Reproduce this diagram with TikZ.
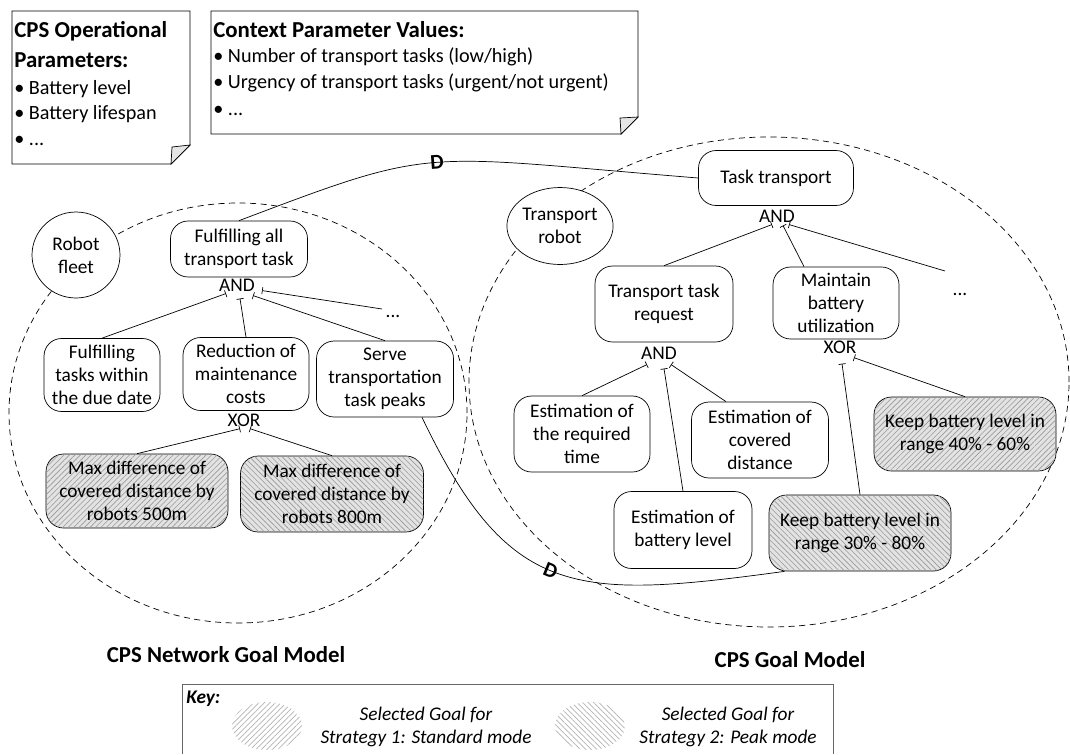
\documentclass[tikz,border=0pt]{standalone}
\usepackage{fontspec}
\setmainfont{Carlito}
\usepackage{tikz}
\usetikzlibrary{calc,arrows.meta,patterns.meta,shapes.geometric}
\newcommand{\notetitle}[1]{{\fontsize{13}{14.5}\selectfont\bfseries #1}}
\tikzset{
    goal-box/.style = {draw, fill=white, thin, rectangle, rounded corners=10pt, align=center, inner sep=1pt, font=\fontsize{11}{13}\selectfont},
    agent-circle/.style = {draw, fill=white, thin, ellipse, align=center, inner sep=0pt, font=\fontsize{11}{13}\selectfont},
    standard-goal/.style = {goal-box, fill=gray!22, postaction={pattern={Lines[angle=45,distance=2.2pt,line width=0.35pt]}, pattern color=gray!80}},
    peak-goal/.style = {goal-box, fill=gray!22, postaction={pattern={Lines[angle=-45,distance=2.2pt,line width=0.35pt]}, pattern color=gray!80}},
    gate-label/.style = {inner sep=0pt, font=\fontsize{11}{11}\selectfont},
    refine-link/.style = {thin, -{Bar[width=4pt,line width=0.4pt]}},
    dep-label/.style = {inner sep=0pt, sloped, font=\fontsize{12}{12}\selectfont\bfseries},
    actor-boundary/.style = {thin, dash pattern=on 3.5pt off 2.5pt},
    note-text/.style = {inner sep=0pt, align=left, anchor=north west, font=\fontsize{11.5}{14.5}\selectfont},
    model-title/.style = {font=\fontsize{13}{15}\selectfont\bfseries},
    key-text/.style = {align=center, font=\fontsize{11}{13}\selectfont\itshape},
}

\begin{document}
\begin{tikzpicture}[x=0.02cm, y=0.02cm]
\useasboundingbox (0,0) rectangle (1070,-754);

\draw[thin] (12,-11) -- (190,-11) -- (190,-145) -- (171,-164) -- (12,-164) -- cycle;
\filldraw[fill=gray!20, thin] (171,-164) -- (172,-147) -- (190,-145) -- cycle;
\node[note-text] (ops) at (14,-21) {\notetitle{CPS Operational}\\[2.5pt]\notetitle{Parameters:}\\[1pt]\textbullet\ Battery level\\ \textbullet\ Battery lifespan\\ \textbullet\ ...};

\draw[thin] (211,-11) -- (638,-11) -- (638,-117) -- (621,-134) -- (211,-134) -- cycle;
\filldraw[fill=gray!20, thin] (621,-134) -- (620,-118) -- (638,-117) -- cycle;
\node[note-text] (ctx) at (213,-21) {\notetitle{Context Parameter Values:}\\ \textbullet\ Number of transport tasks (low/high)\\ \textbullet\ Urgency of transport tasks (urgent/not urgent)\\[1pt] \textbullet\ ...};

\draw[actor-boundary] (238,-413) ellipse (229 and 210);
\draw[actor-boundary] (769,-382) ellipse (300 and 245);

\node[agent-circle, minimum width=1.76cm, minimum height=1.72cm] (fleet) at (76,-255) {Robot\\fleet};
\node[goal-box, minimum width=2.74cm, minimum height=1.12cm] (fulfil) at (239,-249) {Fulfilling all\\transport task};
\node[gate-label] (and1) at (237,-285) {AND};
\node[goal-box, minimum width=2.32cm, minimum height=1.46cm] (tasks) at (102,-375) {Fulfilling\\tasks within\\the due date};
\node[goal-box, minimum width=2.52cm, minimum height=1.46cm] (reduce) at (246,-374) {Reduction of\\maintenance\\costs};
\node[goal-box, minimum width=2.74cm, minimum height=1.52cm] (serve) at (385,-379) {Serve\\transportation\\task peaks};
\node[gate-label] (dots1) at (393,-316) {...};
\node[gate-label] (xor1) at (244,-420) {XOR};
\node[standard-goal, minimum width=3.64cm, minimum height=1.48cm] (dist500) at (137,-491) {Max difference of\\covered distance by\\robots 500m};
\node[peak-goal, minimum width=3.66cm, minimum height=1.52cm] (dist800) at (332,-494) {Max difference of\\covered distance by\\robots 800m};

\node[agent-circle, minimum width=1.9cm, minimum height=1.54cm] (trobot) at (560,-226) {Transport\\robot};
\node[goal-box, minimum width=3.1cm, minimum height=1.1cm] (task) at (776,-178) {Task transport};
\node[gate-label] (and2) at (777,-216) {AND};
\node[goal-box, minimum width=2.76cm, minimum height=1.52cm] (request) at (664,-304) {Transport task\\request};
\node[goal-box, minimum width=2.52cm, minimum height=1.44cm] (maintain) at (836,-303) {Maintain\\battery\\utilization};
\node[gate-label] (dots2) at (960,-294) {...};
\node[gate-label] (and3) at (659,-353) {AND};
\node[gate-label] (xor2) at (840,-347) {XOR};
\node[goal-box, minimum width=2.72cm, minimum height=1.52cm] (esttime) at (582,-434) {Estimation of\\the required\\time};
\node[goal-box, minimum width=2.74cm, minimum height=1.52cm] (estdist) at (760,-440) {Estimation of\\covered\\distance};
\node[standard-goal, minimum width=3.64cm, minimum height=1.48cm] (keep4060) at (965,-434) {Keep battery level in\\range 40\% - 60\%};
\node[goal-box, minimum width=2.76cm, minimum height=1.54cm] (estbatt) at (683,-530) {Estimation of\\battery level};
\node[peak-goal, minimum width=3.64cm, minimum height=1.52cm] (keep3080) at (860,-533) {Keep battery level in\\range 30\% - 80\%};

\draw[refine-link] (tasks.north) -- ($(and1.south)+(-11,-2)$);
\draw[refine-link] (reduce.north) -- ($(and1.south)+(3,-7)$);
\draw[refine-link] (serve.north) -- ($(and1.south)+(16,-4)$);
\draw[refine-link] ($(dots1)+(-11,7)$) -- ($(and1.south)+(25,1)$);
\draw[refine-link] (dist500.north) -- ($(xor1.south)+(-4,-2)$);
\draw[refine-link] (dist800.north) -- ($(xor1.south)+(6,-2)$);

\draw[refine-link] (request.north) -- ($(and2.south)+(-5,-2)$);
\draw[refine-link] ($(maintain.north)+(-32,0)$) -- ($(and2.south)+(6,-3)$);
\draw[refine-link] ($(dots2)+(-15,23)$) -- ($(and2.south)+(12,-2)$);
\draw[refine-link] (esttime.north) -- ($(and3.south)+(-12,-5)$);
\draw[refine-link] (estbatt.north) -- ($(and3.south)+(5,-9)$);
\draw[refine-link] ($(estdist.north)+(-34,0)$) -- ($(and3.south)+(12,-5)$);
\draw[refine-link] (keep3080.north) -- ($(xor2.south)+(2,-10)$);
\draw[refine-link] (keep4060.north) -- ($(xor2.south)+(14,-4)$);

\draw[thin] (fulfil.north) .. controls (439,-145) and (414,-155) .. node[dep-label, pos=0.5] {D} (task.west);
\draw[thin] ($(serve.south)+(37,0)$) .. controls (509,-599) and (574,-600) .. node[dep-label, pos=0.48] {D} ($(keep3080.south west)+(16,0)$);

\node[model-title] (netlabel) at (226,-655) {CPS Network Goal Model};
\node[model-title] (cpslabel) at (790,-660) {CPS Goal Model};

\draw[gray!80!black, thin] (182,-754) -- (182,-684) -- (833,-684) -- (833,-754);
\node[anchor=west, inner sep=0pt, font=\fontsize{11}{13}\selectfont\bfseries\itshape] (keylabel) at (186,-699) {Key:};
\fill[pattern={Lines[angle=45,distance=2.2pt,line width=0.4pt]}, pattern color=gray!60] (267,-726) ellipse (35 and 24);
\node[key-text] (keystd) at (426,-727) {Selected Goal for\\Strategy 1: Standard mode};
\fill[pattern={Lines[angle=-45,distance=2.2pt,line width=0.4pt]}, pattern color=gray!60] (590,-726) ellipse (35 and 24);
\node[key-text] (keypeak) at (728,-727) {Selected Goal for\\Strategy 2: Peak mode};
\end{tikzpicture}
\end{document}
